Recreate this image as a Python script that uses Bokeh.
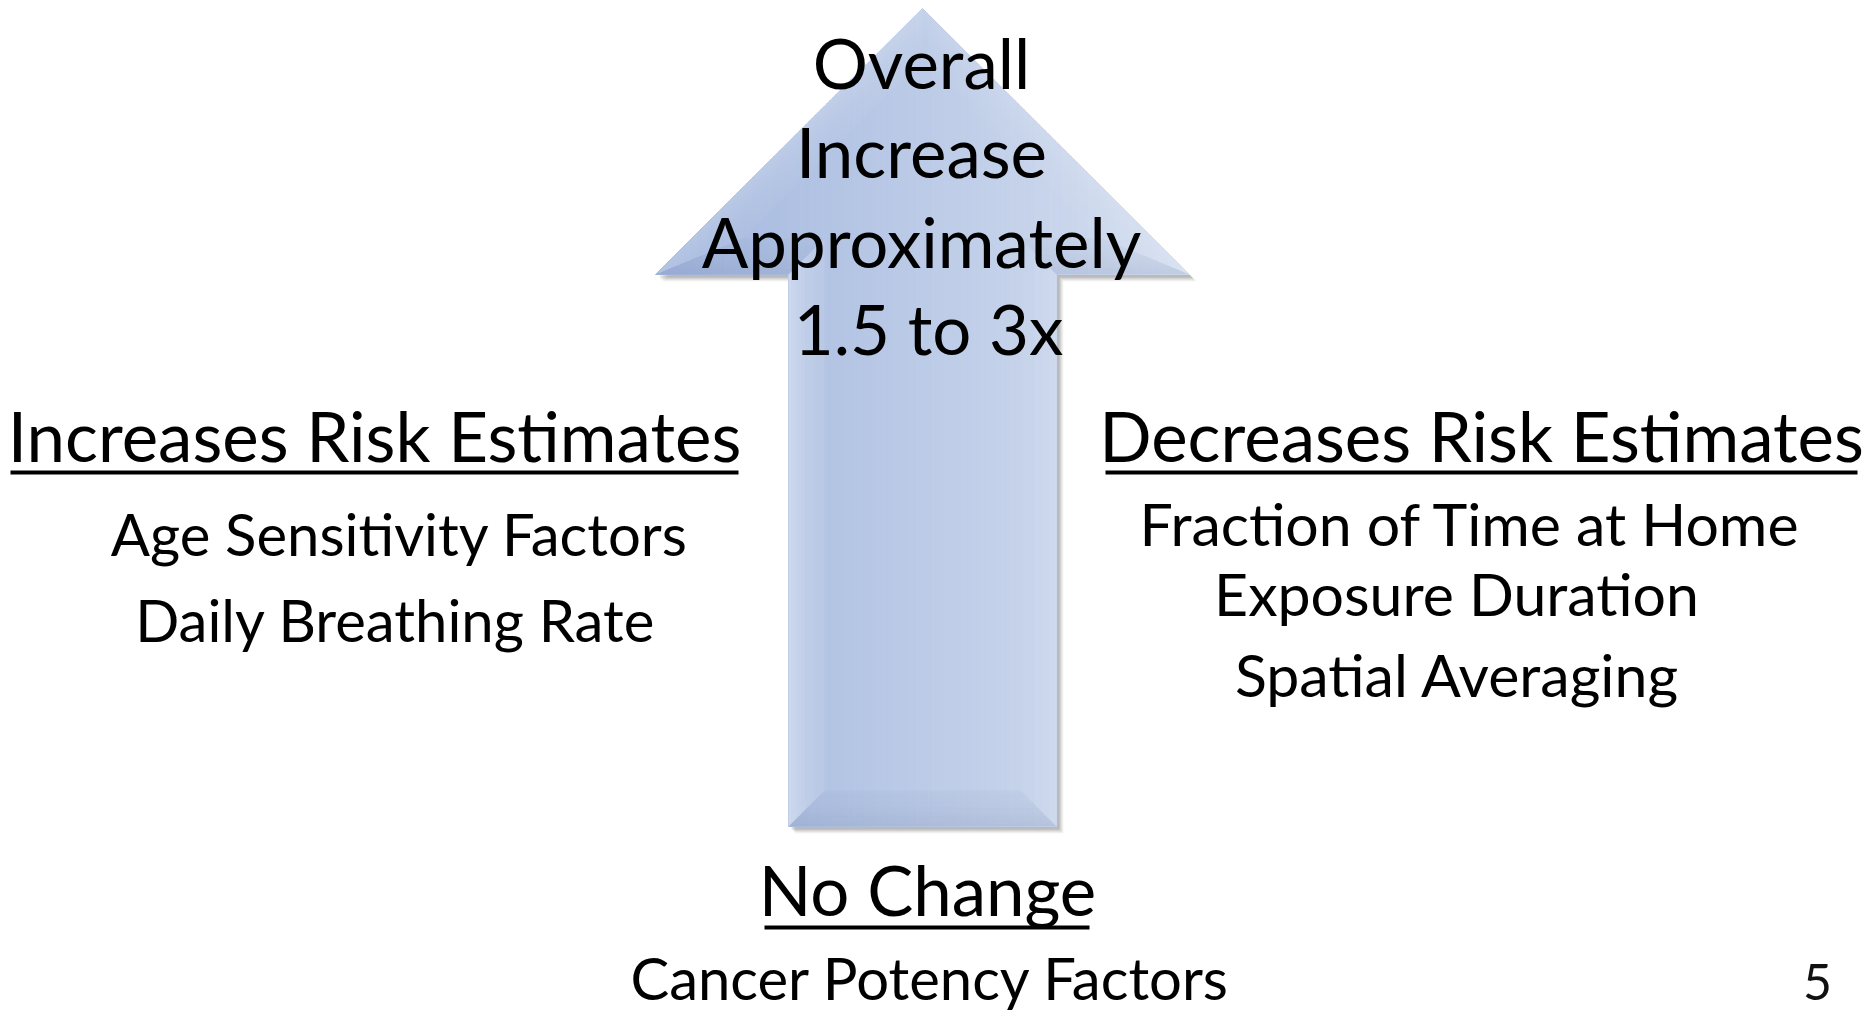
import numpy as np
from bokeh.plotting import figure
from bokeh.core.properties import value
from bokeh.embed import file_html
from bokeh.resources import INLINE

W, H = 1875, 1017

# ---- content ----
center_lines = ["Overall", "Increase", "Approximately", "1.5 to 3x"]
left_heading = ["Increases Risk Estimates"]
left_items = ["Age Sensitivity Factors", "Daily Breathing Rate"]
right_heading = ["Decreases Risk Estimates"]
right_items = ["Fraction of Time at Home", "Exposure Duration", "Spatial Averaging"]
bottom_heading = ["No Change"]
bottom_items = ["Cancer Potency Factors"]
slide_number = ["5"]

# ---- arrow geometry (screen px, y downwards) ----
TIP = (922.0, 8.0)
HEAD_BASE_Y = 274.0
HEAD_L, HEAD_R = 655.0, 1189.0
SHAFT_L, SHAFT_R = 788.0, 1056.0
SHAFT_BOTTOM = 826.0
arrow_x = [TIP[0], HEAD_R, SHAFT_R, SHAFT_R, SHAFT_L, SHAFT_L, HEAD_L]
arrow_y = [TIP[1], HEAD_BASE_Y, HEAD_BASE_Y, SHAFT_BOTTOM, SHAFT_BOTTOM, HEAD_BASE_Y, HEAD_BASE_Y]

FONT = value("Lato")

p = figure(width=W, height=H, x_range=(0, W), y_range=(H, 0),
           output_backend="svg", toolbar_location=None, min_border=0,
           background_fill_color="white", border_fill_color="white")
p.axis.visible = False
p.grid.visible = False
p.outline_line_color = None


def hexcol(rgb):
    return "#%02x%02x%02x" % tuple(int(round(max(0, min(255, c)))) for c in rgb)


# ---- drop shadow ----
for off, a in [(7, 0.04), (6, 0.05), (5, 0.06), (4, 0.07), (3, 0.08)]:
    p.patch([x + off for x in arrow_x], [y + off for y in arrow_y],
            fill_color="#000000", fill_alpha=a, line_alpha=0)

# ---- gradient body (vertical strips) ----
def top_edge(x):
    return TIP[1] + abs(x - TIP[0]) * (HEAD_BASE_Y - TIP[1]) / (TIP[0] - HEAD_L)

c_left = np.array([163, 183, 222])
c_right = np.array([213, 223, 240])
sx, sy, sc = [], [], []
segments = [(HEAD_L, SHAFT_L, HEAD_BASE_Y), (SHAFT_L, TIP[0], SHAFT_BOTTOM),
            (TIP[0], SHAFT_R, SHAFT_BOTTOM), (SHAFT_R, HEAD_R, HEAD_BASE_Y)]
for a0, a1, bot in segments:
    n = int(np.ceil((a1 - a0) / 3))
    edges = np.linspace(a0, a1, n + 1)
    for x0, x1 in zip(edges[:-1], edges[1:]):
        t = ((x0 + x1) / 2 - HEAD_L) / (HEAD_R - HEAD_L)
        col = hexcol(c_left + (c_right - c_left) * t)
        sx.append([x0, x1, x1, x0])
        sy.append([top_edge(x0), top_edge(x1), bot, bot])
        sc.append(col)
p.patches(sx, sy, fill_color=sc, line_color=sc, line_width=1)

# ---- bevel ----
def inset(px, py, d):
    P = np.column_stack([px, py]).astype(float)
    n = len(P)
    area = 0.5 * sum(P[i, 0] * P[(i + 1) % n, 1] - P[(i + 1) % n, 0] * P[i, 1] for i in range(n))
    norms = []
    for i in range(n):
        e = P[(i + 1) % n] - P[i]
        e = e / np.hypot(*e)
        nn = np.array([-e[1], e[0]]) if area > 0 else np.array([e[1], -e[0]])
        norms.append(nn)
    out = []
    for i in range(n):
        j = (i - 1) % n
        p1 = P[j] + norms[j] * d
        d1 = P[i] - P[j]
        p2 = P[i] + norms[i] * d
        d2 = P[(i + 1) % n] - P[i]
        A = np.array([d1, -d2]).T
        s = np.linalg.solve(A, p2 - p1)
        out.append(p1 + d1 * s[0])
    return np.array(out)

# per edge: (color, max alpha); edges: tip->R, R->RS, RS->RB, RB->LB, LB->LS, LS->L, L->tip
edge_shade = [("#ffffff", 0.30), ("#4a5f8c", 0.30), ("#ffffff", 0.25),
              ("#4a5f8c", 0.32), ("#ffffff", 0.85), ("#4a5f8c", 0.30), ("#ffffff", 0.40)]
BEV = 36.0
NB = 14
levels = np.linspace(0, BEV, NB + 1)
polys = [inset(arrow_x, arrow_y, d) for d in levels]
bx, by, bc, ba = [], [], [], []
nv = len(arrow_x)
for k in range(NB):
    o, q = polys[k], polys[k + 1]
    tmid = (k + 0.5) / NB
    prof = (1 - tmid) ** 1.6
    for i in range(nv):
        j = (i + 1) % nv
        col, amax = edge_shade[i]
        bx.append([o[i, 0], o[j, 0], q[j, 0], q[i, 0]])
        by.append([o[i, 1], o[j, 1], q[j, 1], q[i, 1]])
        bc.append(col)
        ba.append(amax * prof * 0.35 + amax * 0.12)
p.patches(bx, by, fill_color=bc, fill_alpha=ba, line_alpha=0)

# ---- texts ----
BASE_SHIFT = 0.40  # compensation between requested and rendered baseline (em)

def txt(xs, ys, texts, size, align="center", color="black"):
    ys = [y - BASE_SHIFT * size for y in ys]
    p.text(x=xs, y=ys, text=texts, text_font=FONT, text_font_size=f"{size}px",
           text_align=align, text_baseline="alphabetic", text_color=color)

txt([921, 921, 921, 928], [90, 179, 269, 356], center_lines, 69)

txt([374], [463], left_heading, 69)
p.line([10, 738], [472, 472], line_color="black", line_width=4)
txt([399, 395], [556, 642], left_items, 58)

txt([1481], [463], right_heading, 69)
p.line([1105, 1857], [472, 472], line_color="black", line_width=4)
txt([1470, 1456, 1457], [547, 617, 698], right_items, 59)

txt([927], [917], bottom_heading, 69)
p.line([764, 1089], [927, 927], line_color="black", line_width=4)
txt([930], [1000], bottom_items, 58)

txt([1817], [1001], slide_number, 50, color="#111111")

open("out.html", "w").write(file_html(p, INLINE))
